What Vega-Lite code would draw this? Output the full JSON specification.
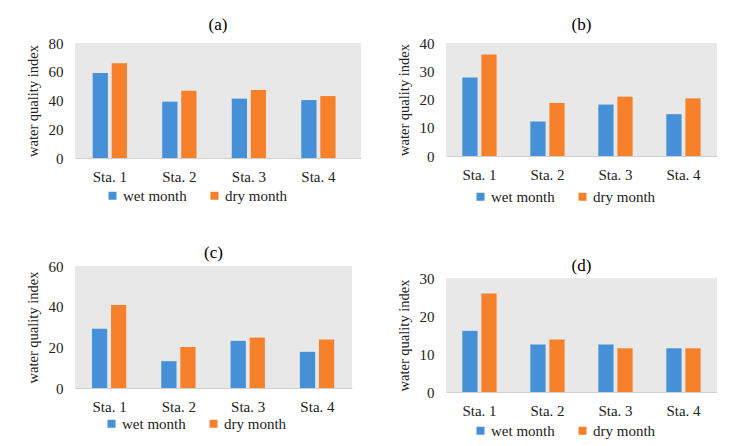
{
  "$schema": "https://vega.github.io/schema/vega-lite/v6.json",
  "background": "white",
  "padding": {"left": 25, "top": 16, "right": 10, "bottom": 5},
  "config": {
    "font": "Liberation Serif",
    "view": {"fill": "#e8e8e8", "stroke": null},
    "title": {"font": "Liberation Serif", "fontSize": 17, "fontWeight": "normal", "color": "#000000", "offset": 2},
    "axis": {"labelFont": "Liberation Serif", "titleFont": "Liberation Serif", "labelColor": "#222222", "titleColor": "#222222", "grid": false, "ticks": false},
    "axisY": {"domain": false, "labelFontSize": 15, "titleFontSize": 14.5, "titleFontWeight": "normal", "labelPadding": 12, "titlePadding": 8},
    "axisX": {"domainColor": "#d0d0d0", "labelFontSize": 15, "labelAngle": 0, "labelPadding": 11, "title": null},
    "legend": {"orient": "none", "direction": "horizontal", "title": null, "labelFont": "Liberation Serif", "labelFontSize": 15, "labelColor": "#222222", "symbolType": "square", "symbolSize": 64, "symbolStrokeWidth": 0, "columnPadding": 20, "labelOffset": 3, "padding": 0}
  },
  "datasets": {
    "wqi": [
      {"panel": "a", "station": "Sta. 1", "month": "wet month", "value": 59.2},
      {"panel": "a", "station": "Sta. 1", "month": "dry month", "value": 65.9},
      {"panel": "a", "station": "Sta. 2", "month": "wet month", "value": 39.2},
      {"panel": "a", "station": "Sta. 2", "month": "dry month", "value": 46.8},
      {"panel": "a", "station": "Sta. 3", "month": "wet month", "value": 41.3},
      {"panel": "a", "station": "Sta. 3", "month": "dry month", "value": 47.3},
      {"panel": "a", "station": "Sta. 4", "month": "wet month", "value": 40.3},
      {"panel": "a", "station": "Sta. 4", "month": "dry month", "value": 43.1},
      {"panel": "b", "station": "Sta. 1", "month": "wet month", "value": 27.8},
      {"panel": "b", "station": "Sta. 1", "month": "dry month", "value": 35.9},
      {"panel": "b", "station": "Sta. 2", "month": "wet month", "value": 12.2},
      {"panel": "b", "station": "Sta. 2", "month": "dry month", "value": 18.8},
      {"panel": "b", "station": "Sta. 3", "month": "wet month", "value": 18.2},
      {"panel": "b", "station": "Sta. 3", "month": "dry month", "value": 21.0},
      {"panel": "b", "station": "Sta. 4", "month": "wet month", "value": 14.8},
      {"panel": "b", "station": "Sta. 4", "month": "dry month", "value": 20.4},
      {"panel": "c", "station": "Sta. 1", "month": "wet month", "value": 29.1},
      {"panel": "c", "station": "Sta. 1", "month": "dry month", "value": 40.8},
      {"panel": "c", "station": "Sta. 2", "month": "wet month", "value": 13.2},
      {"panel": "c", "station": "Sta. 2", "month": "dry month", "value": 20.2},
      {"panel": "c", "station": "Sta. 3", "month": "wet month", "value": 23.2},
      {"panel": "c", "station": "Sta. 3", "month": "dry month", "value": 24.8},
      {"panel": "c", "station": "Sta. 4", "month": "wet month", "value": 17.8},
      {"panel": "c", "station": "Sta. 4", "month": "dry month", "value": 23.8},
      {"panel": "d", "station": "Sta. 1", "month": "wet month", "value": 16.1},
      {"panel": "d", "station": "Sta. 1", "month": "dry month", "value": 25.9},
      {"panel": "d", "station": "Sta. 2", "month": "wet month", "value": 12.5},
      {"panel": "d", "station": "Sta. 2", "month": "dry month", "value": 13.8},
      {"panel": "d", "station": "Sta. 3", "month": "wet month", "value": 12.5},
      {"panel": "d", "station": "Sta. 3", "month": "dry month", "value": 11.5},
      {"panel": "d", "station": "Sta. 4", "month": "wet month", "value": 11.5},
      {"panel": "d", "station": "Sta. 4", "month": "dry month", "value": 11.5}
    ]
  },
  "data": {"name": "wqi"},
  "resolve": {"legend": {"color": "independent"}, "scale": {"y": "independent", "x": "independent"}},
  "spacing": 35,
  "hconcat": [
    {
      "vconcat": [
        {
          "title": {"text": "(a)", "offset": 2},
          "width": 286, "height": 115,
          "transform": [{"filter": "datum.panel === 'a'"}],
          "mark": {"type": "bar"},
          "encoding": {
            "x": {"field": "station", "type": "nominal", "scale": {"paddingInner": 0.507, "paddingOuter": 0.31, "align": 0.41}},
            "xOffset": {"field": "month", "type": "nominal", "sort": ["wet month", "dry month"], "scale": {"paddingInner": 0.2}},
            "y": {"field": "value", "type": "quantitative", "title": "water quality index", "scale": {"domain": [0, 80]}, "axis": {"values": [0, 20, 40, 60, 80]}},
            "color": {"field": "month", "type": "nominal", "sort": ["wet month", "dry month"], "scale": {"domain": ["wet month", "dry month"], "range": ["#4590D6", "#F7812A"]}, "legend": {"legendX": 30, "legendY": 145}}
          }
        },
        {
          "title": {"text": "(c)", "offset": -3},
          "width": 277, "height": 122,
          "transform": [{"filter": "datum.panel === 'c'"}],
          "mark": {"type": "bar"},
          "encoding": {
            "x": {"field": "station", "type": "nominal", "scale": {"paddingInner": 0.493, "paddingOuter": 0.245}},
            "xOffset": {"field": "month", "type": "nominal", "sort": ["wet month", "dry month"], "scale": {"paddingInner": 0.2}},
            "y": {"field": "value", "type": "quantitative", "title": "water quality index", "scale": {"domain": [0, 60]}, "axis": {"values": [0, 20, 40, 60]}},
            "color": {"field": "month", "type": "nominal", "sort": ["wet month", "dry month"], "scale": {"domain": ["wet month", "dry month"], "range": ["#4590D6", "#F7812A"]}, "legend": {"legendX": 29, "legendY": 150}}
          }
        }
      ],
      "spacing": 40,
      "resolve": {"legend": {"color": "independent"}, "scale": {"y": "independent", "x": "independent"}}
    },
    {
      "vconcat": [
        {
          "title": {"text": "(b)", "offset": 2},
          "width": 271, "height": 113,
          "transform": [{"filter": "datum.panel === 'b'"}],
          "mark": {"type": "bar"},
          "encoding": {
            "x": {"field": "station", "type": "nominal", "scale": {"paddingInner": 0.495, "paddingOuter": 0.24}},
            "xOffset": {"field": "month", "type": "nominal", "sort": ["wet month", "dry month"], "scale": {"paddingInner": 0.2}},
            "y": {"field": "value", "type": "quantitative", "title": "water quality index", "scale": {"domain": [0, 40]}, "axis": {"values": [0, 10, 20, 30, 40]}},
            "color": {"field": "month", "type": "nominal", "sort": ["wet month", "dry month"], "scale": {"domain": ["wet month", "dry month"], "range": ["#4590D6", "#F7812A"]}, "legend": {"legendX": 27, "legendY": 146}}
          }
        },
        {
          "title": {"text": "(d)", "offset": -4},
          "width": 271, "height": 114,
          "transform": [{"filter": "datum.panel === 'd'"}],
          "mark": {"type": "bar"},
          "encoding": {
            "x": {"field": "station", "type": "nominal", "scale": {"paddingInner": 0.495, "paddingOuter": 0.24}},
            "xOffset": {"field": "month", "type": "nominal", "sort": ["wet month", "dry month"], "scale": {"paddingInner": 0.2}},
            "y": {"field": "value", "type": "quantitative", "title": "water quality index", "scale": {"domain": [0, 30]}, "axis": {"values": [0, 10, 20, 30]}},
            "color": {"field": "month", "type": "nominal", "sort": ["wet month", "dry month"], "scale": {"domain": ["wet month", "dry month"], "range": ["#4590D6", "#F7812A"]}, "legend": {"legendX": 27, "legendY": 145}}
          }
        }
      ],
      "spacing": 52,
      "resolve": {"legend": {"color": "independent"}, "scale": {"y": "independent", "x": "independent"}}
    }
  ]
}
